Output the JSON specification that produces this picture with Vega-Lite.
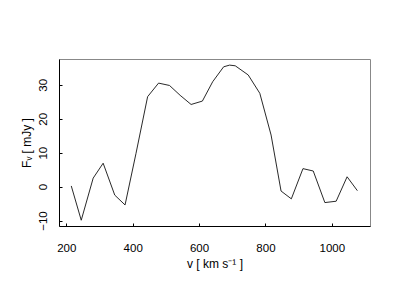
{
  "$schema": "https://vega.github.io/schema/vega-lite/v6.json",
  "width": 311,
  "height": 167,
  "autosize": "none",
  "padding": {"left": 59, "top": 59, "right": 30, "bottom": 74},
  "background": "white",
  "config": {
    "view": {"stroke": "#888888", "strokeWidth": 1},
    "axis": {
      "labelFont": "Liberation Sans",
      "titleFont": "Liberation Sans",
      "labelFontSize": 11.5,
      "titleFontSize": 12,
      "labelColor": "black",
      "titleColor": "black",
      "titleFontWeight": "normal",
      "domainColor": "black",
      "tickColor": "black",
      "grid": false,
      "tickSize": -3,
      "labelFlush": false,
      "labelOverlap": false
    }
  },
  "data": {
    "values": [
      {"v": 215, "F": 0.2},
      {"v": 245, "F": -9.9},
      {"v": 281, "F": 2.5},
      {"v": 311, "F": 6.9},
      {"v": 346, "F": -2.5},
      {"v": 377, "F": -5.4},
      {"v": 410, "F": 9.8},
      {"v": 445, "F": 26.5},
      {"v": 478, "F": 30.5},
      {"v": 511, "F": 29.8},
      {"v": 543, "F": 26.9},
      {"v": 576, "F": 24.2},
      {"v": 610, "F": 25.2},
      {"v": 641, "F": 30.9},
      {"v": 674, "F": 35.3},
      {"v": 692, "F": 35.8},
      {"v": 709, "F": 35.6},
      {"v": 748, "F": 32.9},
      {"v": 783, "F": 27.5},
      {"v": 817, "F": 15.2},
      {"v": 847, "F": -1.3},
      {"v": 878, "F": -3.6},
      {"v": 913, "F": 5.3},
      {"v": 944, "F": 4.6},
      {"v": 979, "F": -4.7},
      {"v": 1013, "F": -4.3},
      {"v": 1046, "F": 2.9},
      {"v": 1077, "F": -1.2}
    ]
  },
  "mark": {"type": "line", "color": "#111111", "strokeWidth": 0.9},
  "encoding": {
    "x": {
      "field": "v",
      "type": "quantitative",
      "scale": {"domain": [178, 1115], "nice": false, "zero": false},
      "axis": {
        "title": "v [ km s⁻¹ ]",
        "values": [200, 400, 600, 800, 1000],
        "format": "d",
        "labelBaseline": "alphabetic",
        "labelPadding": 28,
        "titleBaseline": "alphabetic",
        "titleY": 41
      }
    },
    "y": {
      "field": "F",
      "type": "quantitative",
      "scale": {"domain": [-11.6, 37.6], "nice": false, "zero": false},
      "axis": {
        "title": "Fᵥ [ mJy ]",
        "values": [-10, 0, 10, 20, 30],
        "format": "d",
        "labelAngle": -90,
        "labelAlign": "center",
        "labelBaseline": "alphabetic",
        "labelPadding": 16,
        "titleBaseline": "alphabetic",
        "titleX": -29
      }
    }
  }
}
